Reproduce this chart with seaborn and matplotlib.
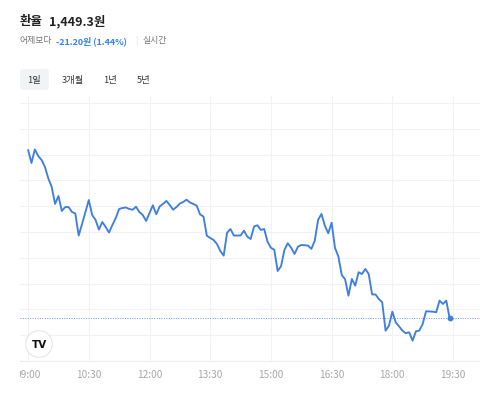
import numpy as np
import pandas as pd
import matplotlib
matplotlib.use('Agg')
import matplotlib.pyplot as plt
import matplotlib.dates as mdates
from matplotlib.patches import FancyBboxPatch, Rectangle
import seaborn as sns

# KRW/USD intraday rate, 5-minute steps from 09:00 to 19:25
start_time = '2024-01-02 09:00'
rates = [
    1465.61, 1464.35, 1465.66, 1465.03, 1464.64, 1463.96, 1462.85, 1462.02, 1460.38, 1461.15,
    1459.70, 1460.08, 1460.08, 1459.60, 1459.46, 1457.32, 1458.44, 1459.60, 1460.76, 1459.31,
    1458.83, 1457.90, 1458.63, 1458.15, 1457.61, 1458.34, 1459.02, 1459.89, 1459.99, 1460.04,
    1459.89, 1459.82, 1460.11, 1459.60, 1459.31, 1458.73, 1459.50, 1460.25, 1459.38, 1460.13,
    1460.38, 1460.67, 1460.28, 1459.82, 1460.08, 1460.42, 1460.57, 1460.79, 1460.52, 1460.38,
    1460.21, 1459.36, 1459.16, 1457.30, 1457.08, 1456.89, 1456.50, 1455.82, 1455.37, 1457.59,
    1457.95, 1457.32, 1457.32, 1457.32, 1457.79, 1457.21, 1456.98, 1458.20, 1458.31, 1457.86,
    1457.95, 1456.72, 1456.13, 1455.94, 1453.88, 1454.34, 1455.92, 1456.57, 1456.14, 1455.53,
    1456.23, 1456.40, 1456.38, 1456.34, 1456.02, 1456.82, 1458.85, 1459.41, 1458.27, 1457.54,
    1458.56, 1456.13, 1455.29, 1453.50, 1453.08, 1451.49, 1453.11, 1452.46, 1453.76, 1453.59,
    1454.08, 1453.59, 1451.61, 1451.61, 1451.17, 1450.85, 1448.10, 1448.58, 1449.94, 1448.91,
    1448.52, 1448.10, 1447.85, 1447.94, 1447.13, 1448.04, 1448.10, 1448.75, 1449.98, 1449.96,
    1449.94, 1449.88, 1451.01, 1450.69, 1451.01, 1449.30,
]
tick_labels = ['09:00', '10:30', '12:00', '13:30', '15:00', '16:30', '18:00', '19:30']
periods = ['1일', '3개월', '1년', '5년']
current_price = '1,449.3원'
change_text = '-21.20원 (1.44%)'

df = pd.DataFrame({
    'time': pd.date_range(start_time, periods=len(rates), freq='5min'),
    'rate': rates,
})
day = start_time.split()[0]
tick_times = pd.to_datetime([f'{day} {t}' for t in tick_labels])

sns.set_theme(style='white')
plt.rcParams['font.family'] = ['Noto Sans CJK KR', 'DejaVu Sans']

LINE = '#3f7fdf'
BLUE = '#3182f6'
W, H = 480, 402
fig = plt.figure(figsize=(W / 100, H / 100), dpi=100)
fig.patch.set_facecolor('white')

def px(x, y):
    return x / W, 1 - y / H

ax = fig.add_axes([20 / W, 1 - 362 / H, 1 - 20 / W, (362 - 97) / H])
sns.lineplot(data=df, x='time', y='rate', ax=ax, color=LINE, linewidth=1.35)
ax.plot(df['time'].iloc[-1], df['rate'].iloc[-1], 'o', color=LINE, markersize=3.2)
ax.axhline(df['rate'].iloc[-1], color=LINE, linestyle=(0, (1, 1.5)), linewidth=0.7, alpha=0.8)

ax.set_xlim(pd.Timestamp(f'{day} 08:48'), pd.Timestamp(f'{day} 20:10'))
ax.set_ylim(1445.16, 1470.84)
ax.set_xticks(tick_times)
ax.xaxis.set_major_formatter(mdates.DateFormatter('%H:%M'))
ax.set_yticks(np.arange(1447.66, 1471, 2.5))
ax.grid(True, color='#f2f2f2', linewidth=0.8)
ax.tick_params(axis='x', length=0, labelsize=7.3, labelcolor='#a8a8a8', pad=6)
for lab in ax.get_xticklabels():
    lab.set_fontweight('light')
ax.tick_params(axis='y', length=0, labelleft=False)
ax.set_xlabel('')
ax.set_ylabel('')
for s in ['top', 'right', 'left']:
    ax.spines[s].set_visible(False)
ax.spines['bottom'].set_color('#ececec')
ax.spines['bottom'].set_linewidth(0.8)

# TradingView badge
ax.text(*px(39, 345), 'TV', transform=fig.transFigure, ha='center', va='center',
        fontsize=7.5, fontweight='heavy', color='#111111', family='DejaVu Sans',
        bbox=dict(boxstyle='circle,pad=0.55', fc='white', ec='#e6e6e6', lw=0.8))

# clip the first tick label like the source
fig.patches.append(Rectangle((0, 0), 19.5 / W, 40 / H, transform=fig.transFigure,
                             facecolor='white', edgecolor='none', zorder=10))

# header
fig.text(*px(20, 22), '환율', fontsize=9, fontweight='bold', color='#222222', va='center')
fig.text(*px(49, 22), current_price, fontsize=9, fontweight='bold', color='#222222', va='center')
fig.text(*px(19, 41), '어제보다', fontsize=6.4, color='#777777', va='center')
fig.text(*px(56, 41), change_text, fontsize=6.4, fontweight='bold', color=BLUE, va='center')
fig.text(*px(135, 41), '|', fontsize=6, color='#dddddd', va='center')
fig.text(*px(142, 41), '실시간', fontsize=6.4, color='#777777', va='center')

fig.patches.append(FancyBboxPatch((20 / W, 1 - 91 / H), 29 / W, 21 / H,
                                  boxstyle='round,pad=0,rounding_size=0.008',
                                  transform=fig.transFigure, facecolor='#f2f3f5',
                                  edgecolor='none'))
for label, cx in zip(periods, [34.5, 73, 110.5, 144]):
    fig.text(*px(cx, 81), label, fontsize=6.7, color='#333333', ha='center', va='center')

fig.savefig('out.png', dpi=100, facecolor='white')
